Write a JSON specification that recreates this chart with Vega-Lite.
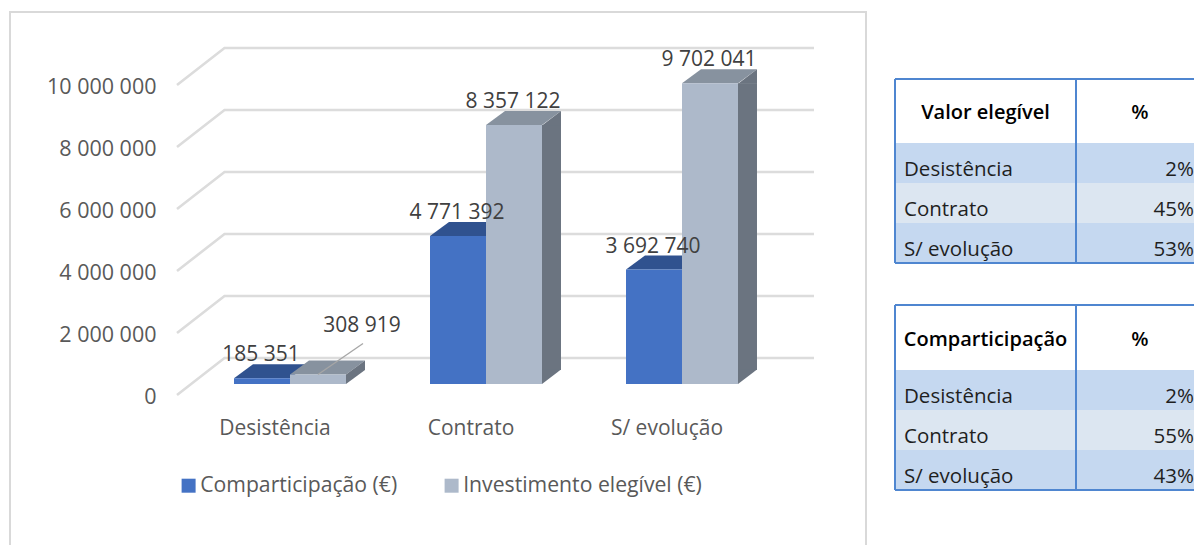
{
"$schema":"https://vega.github.io/schema/vega-lite/v6.json",
"padding":{"left":9,"top":11,"right":0,"bottom":0},
"autosize":{"type":"pad"},
"background":"white",
"spacing":29,
"bounds":"flush",
"resolve":{"scale":{"color":"independent"}},
"config":{
 "view":{"stroke":null},
 "locale":{"number":{"decimal":",","thousands":" ","grouping":[3],"currency":["","€"]}},
 "text":{"font":"Open Sans"},
 "axis":{"labelFont":"Open Sans"},
 "legend":{"labelFont":"Open Sans"}
},
"datasets":{
 "bars":[
  {"categoria":"Desistência","serie":"Comparticipação (€)","valor":185351},
  {"categoria":"Desistência","serie":"Investimento elegível (€)","valor":308919},
  {"categoria":"Contrato","serie":"Comparticipação (€)","valor":4771392},
  {"categoria":"Contrato","serie":"Investimento elegível (€)","valor":8357122},
  {"categoria":"S/ evolução","serie":"Comparticipação (€)","valor":3692740},
  {"categoria":"S/ evolução","serie":"Investimento elegível (€)","valor":9702041}
 ],
 "ticks":[{"t":0},{"t":2000000},{"t":4000000},{"t":6000000},{"t":8000000},{"t":10000000}],
 "valor":[{"nome":"Desistência","pct":"2%"},{"nome":"Contrato","pct":"45%"},{"nome":"S/ evolução","pct":"53%"}],
 "comp":[{"nome":"Desistência","pct":"2%"},{"nome":"Contrato","pct":"55%"},{"nome":"S/ evolução","pct":"43%"}],
 "edges":[{"e":0},{"e":181},{"e":300}]
},
"hconcat":[
 {
  "width":856,"height":534,
  "view":{"stroke":"#d9d9d9","strokeWidth":2},
  "encoding":{
   "x":{"field":"categoria","type":"nominal","sort":["Desistência","Contrato","S/ evolução"],
     "scale":{"domain":["Desistência","Contrato","S/ evolução"],"range":[182,770],"paddingInner":0.4286,"paddingOuter":0.2143},
     "axis":{"title":null,"labelAngle":0,"domain":false,"ticks":false,"offset":-129,"labelPadding":0,"labelFontSize":21,"labelColor":"#595959","labelOffset":-15}},
   "xOffset":{"field":"serie","type":"nominal","sort":["Comparticipação (€)","Investimento elegível (€)"]},
   "y":{"field":"valor","type":"quantitative","stack":null,
     "scale":{"domain":[0,10000000],"range":[372,62]},
     "axis":{"title":null,"values":[0,2000000,4000000,6000000,8000000,10000000],"format":",d","grid":false,"domain":false,"ticks":false,"offset":-167,"labelPadding":21,"labelFontSize":21.5,"labelColor":"#595959","labelOffset":13}}
  },
  "layer":[
   {"data":{"name":"ticks"},
    "mark":{"type":"point","shape":"M-113,11L-65.5,-26L524,-26","size":4,"filled":false,"opacity":1,"stroke":"#dcdcdc","strokeWidth":2.6},
    "encoding":{"x":{"datum":"Desistência"},"xOffset":null,"y":{"field":"t","type":"quantitative"}}},
   {"data":{"name":"bars"},"transform":[{"filter":"datum.serie==='Comparticipação (€)'"}],
    "mark":{"type":"point","shape":"M-28,0L28,0L47,-14L-9,-14Z","size":4,"filled":true,"opacity":1,"fill":"#30528f","strokeWidth":0}},
   {"data":{"name":"bars"},"transform":[{"filter":"datum.serie==='Investimento elegível (€)'"}],
    "mark":{"type":"point","shape":"M-28,0L28,0L47,-14L-9,-14Z","size":4,"filled":true,"opacity":1,"fill":"#87929f","strokeWidth":0}},
   {"data":{"name":"bars"},"transform":[{"filter":"datum.serie==='Investimento elegível (€)' && datum.valor>1000000"}],
    "mark":{"type":"rule","strokeWidth":19,"color":"#6b7480"},
    "encoding":{"x":{"field":"categoria","type":"nominal","bandPosition":1.0848},"xOffset":null,"y2":{"datum":451613}}},
   {"data":{"name":"bars"},"transform":[{"filter":"datum.serie==='Investimento elegível (€)' && datum.valor>1000000"}],
    "mark":{"type":"point","shape":"M28,0.5L47,0.5L47,-14Z","size":4,"filled":true,"opacity":1,"fill":"#6b7480","strokeWidth":0}},
   {"data":{"name":"bars"},"transform":[{"filter":"datum.serie==='Investimento elegível (€)' && datum.valor>1000000"}],
    "mark":{"type":"point","shape":"M28,0L28,-14.5L47,-14.5Z","size":4,"filled":true,"opacity":1,"fill":"#6b7480","strokeWidth":0},
    "encoding":{"y":{"datum":0}}},
   {"data":{"name":"bars"},"transform":[{"filter":"datum.serie==='Investimento elegível (€)' && datum.valor<1000000"}],
    "mark":{"type":"point","shape":"M28,0L47,-14L47,-4.4L28,9.6Z","size":4,"filled":true,"opacity":1,"fill":"#6b7480","strokeWidth":0}},
   {"data":{"name":"bars"},
    "mark":{"type":"bar"},
    "encoding":{"color":{"field":"serie","type":"nominal",
      "scale":{"domain":["Comparticipação (€)","Investimento elegível (€)"],"range":["#4472c4","#adb9ca"]},
      "legend":{"title":null,"orient":"none","legendX":168,"legendY":463,"direction":"horizontal","symbolType":"square","symbolSize":196,"labelFontSize":21.2,"labelColor":"#595959","labelOffset":1,"labelLimit":400,"columnPadding":43,"symbolStrokeWidth":0,"symbolOpacity":1}}}},
   {"data":{"name":"bars"},"transform":[{"filter":"datum.serie==='Investimento elegível (€)' && datum.valor<1000000"}],
    "mark":{"type":"point","shape":"M0,0L45,-31","size":4,"filled":false,"opacity":1,"stroke":"#a6a6a6","strokeWidth":1.3}},
   {"data":{"name":"bars"},"transform":[{"filter":"!(datum.serie==='Investimento elegível (€)' && datum.valor<1000000)"}],
    "mark":{"type":"text","fontSize":21,"color":"#404040","baseline":"middle","dx":-1,"dy":-23},
    "encoding":{"text":{"field":"valor","type":"quantitative","format":",d"}}},
   {"data":{"name":"bars"},"transform":[{"filter":"datum.serie==='Investimento elegível (€)' && datum.valor<1000000"}],
    "mark":{"type":"text","fontSize":21,"color":"#404040","baseline":"middle","dx":44,"dy":-48},
    "encoding":{"text":{"field":"valor","type":"quantitative","format":",d"}}}
  ]
 },
 {
  "spacing":0,
  "bounds":"flush",
  "resolve":{"scale":{"color":"independent"}},
  "vconcat":[
   {"width":300,"height":67,"data":{"values":[]},"mark":{"type":"text"},"encoding":{}},
   {"width":300,"height":64,
    "layer":[
     {"data":{"values":[{"titulo":"Valor elegível"}]},"mark":{"type":"text","fontSize":20,"fontWeight":600,"color":"#000000","baseline":"middle","dy":2},
      "encoding":{"x":{"datum":90.5,"type":"quantitative","scale":{"domain":[0,300]},"axis":null},"text":{"field":"titulo"}}},
     {"data":{"values":[{"titulo":"%"}]},"mark":{"type":"text","fontSize":20,"fontWeight":600,"color":"#000000","baseline":"middle","dy":2},
      "encoding":{"x":{"datum":245,"type":"quantitative"},"text":{"field":"titulo"}}},
     {"data":{"name":"edges"},"mark":{"type":"rule","color":"#4f86d0","strokeWidth":2},
      "encoding":{"x":{"field":"e","type":"quantitative"}}},
     {"data":{"values":[{"t":1}]},"mark":{"type":"rule","color":"#4f86d0","strokeWidth":2},
      "encoding":{"y":{"field":"t","type":"quantitative","scale":{"domain":[0,1]},"axis":null}}}
    ]},
   {"width":300,"height":120,
    "data":{"name":"valor"},
    "layer":[
     {"mark":{"type":"rect"},
      "encoding":{"y":{"field":"nome","type":"nominal","sort":null,"scale":{"domain":["Desistência","Contrato","S/ evolução"],"paddingInner":0,"paddingOuter":0},"axis":null},
       "color":{"field":"nome","type":"nominal","scale":{"domain":["Desistência","Contrato","S/ evolução"],"range":["#c5d8f0","#dce6f1","#c5d8f0"]},"legend":null}}},
     {"mark":{"type":"text","fontSize":20.5,"align":"left","color":"#1f1f1f","baseline":"middle","dy":7},
      "encoding":{"x":{"datum":9,"type":"quantitative","scale":{"domain":[0,300]},"axis":null},"y":{"field":"nome","type":"nominal"},"text":{"field":"nome"}}},
     {"mark":{"type":"text","fontSize":20.5,"align":"right","color":"#1f1f1f","baseline":"middle","dy":7},
      "encoding":{"x":{"datum":299,"type":"quantitative"},"y":{"field":"nome","type":"nominal"},"text":{"field":"pct"}}},
     {"data":{"name":"edges"},"mark":{"type":"rule","color":"#4f86d0","strokeWidth":2},
      "encoding":{"x":{"field":"e","type":"quantitative"}}},
     {"data":{"values":[{"nome":"S/ evolução"}]},"mark":{"type":"rule","color":"#4f86d0","strokeWidth":2},
      "encoding":{"y":{"field":"nome","type":"nominal","bandPosition":1}}}
    ]},
   {"width":300,"height":42,"data":{"values":[]},"mark":{"type":"text"},"encoding":{}},
   {"width":300,"height":65,
    "layer":[
     {"data":{"values":[{"titulo":"Comparticipação"}]},"mark":{"type":"text","fontSize":20,"fontWeight":600,"color":"#000000","baseline":"middle","dy":2},
      "encoding":{"x":{"datum":90.5,"type":"quantitative","scale":{"domain":[0,300]},"axis":null},"text":{"field":"titulo"}}},
     {"data":{"values":[{"titulo":"%"}]},"mark":{"type":"text","fontSize":20,"fontWeight":600,"color":"#000000","baseline":"middle","dy":2},
      "encoding":{"x":{"datum":245,"type":"quantitative"},"text":{"field":"titulo"}}},
     {"data":{"name":"edges"},"mark":{"type":"rule","color":"#4f86d0","strokeWidth":2},
      "encoding":{"x":{"field":"e","type":"quantitative"}}},
     {"data":{"values":[{"t":1}]},"mark":{"type":"rule","color":"#4f86d0","strokeWidth":2},
      "encoding":{"y":{"field":"t","type":"quantitative","scale":{"domain":[0,1]},"axis":null}}}
    ]},
   {"width":300,"height":120,
    "data":{"name":"comp"},
    "layer":[
     {"mark":{"type":"rect"},
      "encoding":{"y":{"field":"nome","type":"nominal","sort":null,"scale":{"domain":["Desistência","Contrato","S/ evolução"],"paddingInner":0,"paddingOuter":0},"axis":null},
       "color":{"field":"nome","type":"nominal","scale":{"domain":["Desistência","Contrato","S/ evolução"],"range":["#c5d8f0","#dce6f1","#c5d8f0"]},"legend":null}}},
     {"mark":{"type":"text","fontSize":20.5,"align":"left","color":"#1f1f1f","baseline":"middle","dy":7},
      "encoding":{"x":{"datum":9,"type":"quantitative","scale":{"domain":[0,300]},"axis":null},"y":{"field":"nome","type":"nominal"},"text":{"field":"nome"}}},
     {"mark":{"type":"text","fontSize":20.5,"align":"right","color":"#1f1f1f","baseline":"middle","dy":7},
      "encoding":{"x":{"datum":299,"type":"quantitative"},"y":{"field":"nome","type":"nominal"},"text":{"field":"pct"}}},
     {"data":{"name":"edges"},"mark":{"type":"rule","color":"#4f86d0","strokeWidth":2},
      "encoding":{"x":{"field":"e","type":"quantitative"}}},
     {"data":{"values":[{"nome":"S/ evolução"}]},"mark":{"type":"rule","color":"#4f86d0","strokeWidth":2},
      "encoding":{"y":{"field":"nome","type":"nominal","bandPosition":1}}}
    ]}
  ]
 }
]
}
